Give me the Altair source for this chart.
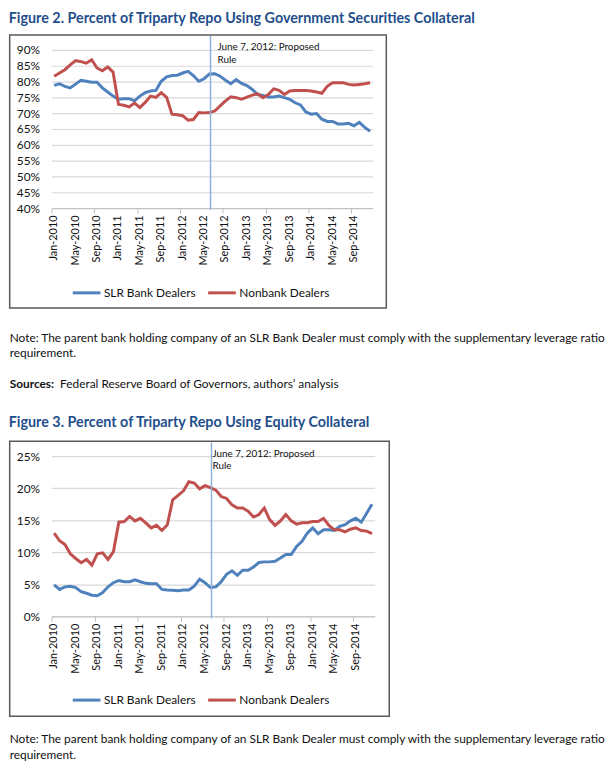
import altair as alt
import pandas as pd

# ---------------- data ----------------
tick_labels = ["Jan-2010", "May-2010", "Sep-2010", "Jan-2011", "May-2011", "Sep-2011",
               "Jan-2012", "May-2012", "Sep-2012", "Jan-2013", "May-2013", "Sep-2013",
               "Jan-2014", "May-2014", "Sep-2014"]
tick_months = list(range(0, 60, 4))  # month index of each labelled tick
series_names = ["SLR Bank Dealers", "Nonbank Dealers"]
series_colors = ["#4F81BD", "#C0504D"]
rule_month = 29.2  # June 7, 2012 (months since Jan-2010)
rule_text = ["June 7, 2012: Proposed", "Rule"]

gov_slr = [78.8, 79.3, 78.5, 78.0, 79.2, 80.4, 80.1, 79.8, 79.8, 78.0,
           76.7, 75.4, 74.4, 74.6, 74.6, 73.9, 75.4, 76.5, 77.0, 77.2,
           80.1, 81.5, 81.9, 82.0, 82.7, 83.2, 81.9, 80.1, 80.9, 82.4,
           82.5, 81.7, 80.4, 79.3, 80.6, 79.4, 78.75, 77.5, 75.9, 75.6,
           75.1, 75.1, 75.4, 74.9, 74.4, 73.3, 72.6, 70.4, 69.7, 69.9,
           68.1, 67.4, 67.4, 66.6, 66.6, 66.8, 66.0, 67.1, 65.5, 64.3]
gov_non = [81.7, 82.7, 83.75, 85.3, 86.6, 86.3, 85.8, 86.9, 84.3, 83.4,
           84.6, 83.0, 72.8, 72.5, 72.0, 73.2, 71.8, 73.4, 75.4, 75.0,
           76.5, 75.0, 69.7, 69.5, 69.2, 67.8, 68.0, 70.2, 70.1, 70.2,
           70.7, 72.3, 73.9, 75.2, 74.9, 74.4, 75.1, 75.7, 76.1, 74.9,
           75.9, 77.7, 77.2, 75.9, 77.0, 77.2, 77.2, 77.2, 77.0, 76.7,
           76.3, 78.5, 79.6, 79.6, 79.6, 79.1, 78.9, 79.1, 79.3, 79.6]
eq_slr = [4.9, 4.2, 4.6, 4.7, 4.5, 3.86, 3.6, 3.3, 3.2, 3.7,
          4.6, 5.25, 5.6, 5.4, 5.4, 5.7, 5.4, 5.15, 5.1, 5.1,
          4.2, 4.1, 4.07, 4.0, 4.1, 4.1, 4.7, 5.8, 5.25, 4.5,
          4.6, 5.4, 6.55, 7.1, 6.4, 7.2, 7.2, 7.7, 8.4, 8.5,
          8.5, 8.6, 9.1, 9.65, 9.65, 10.9, 11.7, 13.0, 13.8, 12.9,
          13.5, 13.5, 13.4, 14.05, 14.3, 14.9, 15.3, 14.7, 16.1, 17.5]
eq_non = [13.0, 11.8, 11.2, 9.76, 9.03, 8.36, 8.88, 8.0, 9.76, 9.9,
          8.88, 10.1, 14.7, 14.8, 15.6, 14.9, 15.3, 14.6, 13.8, 14.2,
          13.4, 14.3, 18.2, 18.9, 19.6, 21.0, 20.8, 19.9, 20.4, 20.1,
          19.7, 18.7, 18.4, 17.4, 16.9, 16.9, 16.4, 15.5, 15.9, 16.9,
          15.1, 14.2, 14.9, 15.9, 14.9, 14.4, 14.6, 14.6, 14.8, 14.8,
          15.3, 14.2, 13.5, 13.5, 13.2, 13.6, 13.8, 13.4, 13.3, 12.9]

title2 = "Figure 2. Percent of Triparty Repo Using Government Securities Collateral"
title3 = "Figure 3. Percent of Triparty Repo Using Equity Collateral"
note_lines = ["Note: The parent bank holding company of an SLR Bank Dealer must comply with the supplementary leverage ratio",
              "requirement."]
sources_bold = "Sources:"
sources_rest = "Federal Reserve Board of Governors, authors\u2019 analysis"

FONT = "Lato"
TITLE_C = "#1F4E8C"
RULE_C = "#8EB0DC"
TXT = "#111111"

one = pd.DataFrame({"k": [0]})
tick_df = pd.DataFrame({"pos": tick_months, "lab": tick_labels})


def figure(title, slr, non, ydom, ystep, W, H, title_y, box_top, box_bottom,
           box_right_extra, legend_y, note_y, ann_dx, with_sources):
    n = len(slr)
    df = pd.DataFrame({
        "i": list(range(n)) * 2,
        "v": slr + non,
        "s": [series_names[0]] * n + [series_names[1]] * n,
    })
    step = W / 60.0
    x = alt.X("i:Q",
              scale=alt.Scale(domain=[-0.5, 59.5], nice=False, zero=False),
              axis=alt.Axis(values=list(range(0, 61, 4)), labels=False,
                            tickOffset=-step / 2, grid=False, title=None,
                            domainColor="#BFBFBF", tickColor="#BFBFBF", tickSize=5))
    y = alt.Y("v:Q",
              scale=alt.Scale(domain=ydom, nice=False, zero=False),
              axis=alt.Axis(values=list(range(ydom[0], ydom[1] + 1, ystep)),
                            labelExpr="datum.value + '%'", domain=False, ticks=False,
                            gridColor="#D9D9D9", gridWidth=1.2, labelPadding=12,
                            labelFont=FONT, labelFontSize=12, labelColor=TXT, title=None))
    color = alt.Color("s:N", sort=series_names,
                      scale=alt.Scale(domain=series_names, range=series_colors),
                      legend=alt.Legend(orient="none", legendX=20, legendY=legend_y,
                                        direction="horizontal", title=None,
                                        symbolType="stroke", symbolSize=784,
                                        symbolStrokeWidth=3, labelFont=FONT,
                                        labelFontSize=12, labelColor=TXT, labelOffset=2,
                                        columnPadding=6))
    base = alt.Chart(df).mark_line(strokeWidth=3).encode(x=x, y=y, color=color)
    line_slr = base.transform_filter(alt.datum.s == series_names[0])
    line_non = base.transform_filter(alt.datum.s == series_names[1])

    xlab = alt.Chart(tick_df).mark_text(angle=270, align="right", baseline="middle",
                                        dx=1.5, font=FONT, fontSize=11, color=TXT).encode(
        x=alt.X("pos:Q"), y=alt.value(H + 9), text="lab:N")

    box = alt.Chart(one).mark_rect(fillOpacity=0, stroke="#595959", strokeWidth=1.5).encode(
        x=alt.value(-42.3), x2=alt.value(W + box_right_extra),
        y=alt.value(box_top), y2=alt.value(box_bottom))
    rule = alt.Chart(one).mark_rule(color=RULE_C, strokeWidth=1.5).encode(
        x=alt.datum(rule_month), y=alt.value(box_top + 1), y2=alt.value(H + 2))
    ann = alt.Chart(one).mark_text(align="left", baseline="top", dx=ann_dx, font=FONT,
                                   fontSize=10, lineHeight=12.4, color=TXT).encode(
        x=alt.datum(rule_month), y=alt.value(-7.5), text=alt.value(rule_text))
    ttl = alt.Chart(one).mark_text(align="left", baseline="top", font=FONT, fontSize=14.5,
                                   fontWeight="bold", color=TITLE_C).encode(
        x=alt.value(-43.3), y=alt.value(title_y), text=alt.value(title))
    note = alt.Chart(one).mark_text(align="left", baseline="top", font=FONT, fontSize=12,
                                    lineHeight=16, color=TXT).encode(
        x=alt.value(-42.3), y=alt.value(note_y), text=alt.value(note_lines))
    layers = [box, line_slr, line_non, xlab, rule, ann, ttl, note]
    if with_sources:
        src_b = alt.Chart(one).mark_text(align="left", baseline="top", font=FONT, fontSize=12,
                                         fontWeight="bold", color=TXT).encode(
            x=alt.value(-42.3), y=alt.value(note_y + 47), text=alt.value(sources_bold))
        src_r = alt.Chart(one).mark_text(align="left", baseline="top", font=FONT, fontSize=12,
                                         color=TXT).encode(
            x=alt.value(-42.3 + 51), y=alt.value(note_y + 47), text=alt.value(sources_rest))
        layers += [src_b, src_r]
    return alt.layer(*layers).properties(width=W, height=H)


H2 = 160
H3 = 162
fig2 = figure(title2, gov_slr, gov_non, [40, 90], 5, 325, H2,
              title_y=-38, box_top=-15, box_bottom=H2 + 101, box_right_extra=13.7,
              legend_y=H2 + 70, note_y=H2 + 126, ann_dx=7, with_sources=True)
fig3 = figure(title3, eq_slr, eq_non, [0, 25], 5, 327, H3,
              title_y=-41, box_top=-15, box_bottom=H3 + 101, box_right_extra=14.7,
              legend_y=H3 + 69, note_y=H3 + 119, ann_dx=1, with_sources=False)

chart = alt.vconcat(fig2, fig3, spacing=251, bounds="flush").resolve_scale(
    x="independent", y="independent", color="independent"
).resolve_legend(color="independent").properties(
    padding={"left": 0, "top": -2, "right": 0, "bottom": 0}
).configure_view(stroke="transparent")

chart.save("out.html", embed_options={"renderer": "svg", "actions": False})
